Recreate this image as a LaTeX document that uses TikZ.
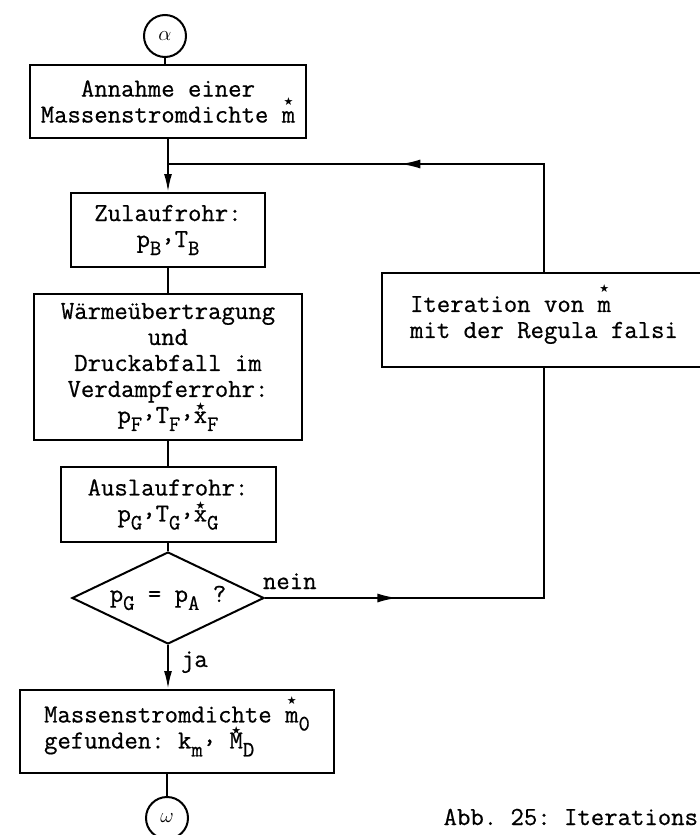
\documentclass[tikz,border=0pt]{standalone}
\usepackage{fontspec}
\usepackage{tikz}
\usetikzlibrary{arrows.meta,positioning,shapes.geometric,decorations.markings}
\setmonofont[FakeBold=0.6]{Latin Modern Mono}
\newfontfamily\starfont{DejaVu Sans}
\newcommand{\lo}[1]{\raisebox{-8pt}{\fontsize{22}{22}\selectfont #1}}
\newcommand{\st}[2][15pt]{\ooalign{#2\cr\hidewidth\smash{\raisebox{#1}{\starfont\fontsize{11}{11}\selectfont ★}}\hidewidth\cr}}
\newcommand{\rc}{\raisebox{6pt}{,}}

\tikzset{
  flowbox/.style={draw,rectangle,inner sep=0pt,align=center,font=\ttfamily\fontsize{26}{26}\selectfont},
  decision/.style={draw,diamond,aspect=2.1,inner sep=0pt,minimum width=192pt,minimum height=92pt,font=\ttfamily\fontsize{26}{26}\selectfont},
  conn/.style={draw,circle,inner sep=0pt,minimum size=42pt,font=\fontsize{20}{20}\selectfont},
  lbl/.style={inner sep=0pt,font=\ttfamily\fontsize{26}{26}\selectfont},
  arr/.style={-{Latex[length=18pt,width=8pt]}},
  midarrow/.style={postaction={decorate},decoration={markings,mark=at position #1 with {\arrow{Latex[length=20pt,width=9pt]}}}}
}

\begin{document}
\begin{tikzpicture}[x=1pt,y=-1pt,line width=2pt]
  \useasboundingbox (0,0) rectangle (700,835);
  \node[conn] (alpha) at (165,36) {$\alpha$};
  \node[flowbox,minimum width=276pt,minimum height=73pt] (annahme) at (168,101.5) {Annahme einer\\Massenstromdichte \st[17pt]{m}};
  \coordinate (merge) at (168,164);
  \node[flowbox,minimum width=194pt,minimum height=74pt] (zulauf) at (168,230) {Zulaufrohr:\\p\lo{B}\rc T\lo{B}};
  \node[flowbox,minimum width=268pt,minimum height=146pt] (waerme) at (168,367) {Wärmeübertragung\\und\\Druckabfall im\\Verdampferrohr:\\p\lo{F}\rc T\lo{F}\rc\st[12pt]{x}\lo{F}};
  \node[flowbox,minimum width=215pt,minimum height=75pt] (auslauf) at (168,504.5) {Auslaufrohr:\\p\lo{G}\rc T\lo{G}\rc\st[12pt]{x}\lo{G}};
  \node[decision] (test) at (168,598) {p\lo{G} = p\lo{A} ?};
  \node[flowbox,align=left,minimum width=324pt,minimum height=94pt] (iter) at (544,320) {Iteration von \st[19pt]{m}\\mit der Regula falsi};
  \node[flowbox,align=left,minimum width=314pt,minimum height=83pt] (final) at (177,731.5) {Massenstromdichte \st[18pt]{m}\lo{0}\\gefunden: k\lo{m}\rc{} \st[14pt]{M}\lo{D}};
  \node[conn] (omega) at (167,818) {$\omega$};
  \node[lbl,anchor=base west] (nein) at (262,589) {nein};
  \node[lbl,anchor=base west] (ja) at (180,667) {ja};
  \node[lbl,anchor=base east] (caption) at (699,825) {Abb. 25: Iterations};

  \draw (alpha) -- (alpha |- annahme.north);
  \draw (annahme) -- (merge);
  \draw[arr] (merge) -- (zulauf);
  \draw (zulauf) -- (waerme);
  \draw (waerme) -- (auslauf);
  \draw (auslauf) -- (test);
  \draw[arr] (test.south) -- (test.south |- final.north);
  \draw (omega.north |- final.south) -- (omega);
  \draw[midarrow=0.26] (test.east) -| (iter.south);
  \draw[midarrow=0.52] (iter.north) |- (merge);
\end{tikzpicture}
\end{document}
